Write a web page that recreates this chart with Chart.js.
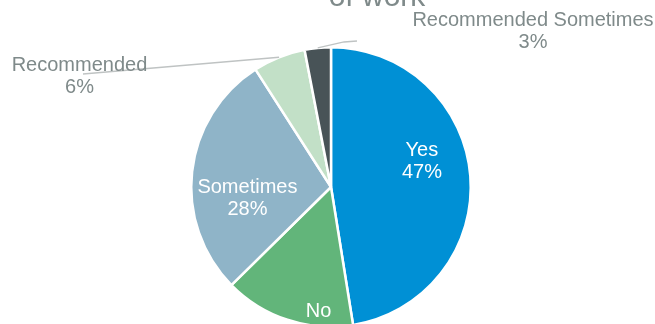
<!DOCTYPE html>
<html>
<head>
<meta charset="utf-8">
<script src="https://cdn.jsdelivr.net/npm/chart.js@4/dist/chart.umd.min.js"></script>
<style>
  html, body { margin: 0; padding: 0; background: #ffffff; }
  #frame { position: relative; width: 655px; height: 324px; overflow: hidden; }
  #chart { position: absolute; left: 0; top: 0; }
</style>
</head>
<body>
<div id="frame"><canvas id="chart" width="655" height="400"></canvas></div>
<script>
// Survey answers and their share of responses (%)
const categories = ['Yes', 'No', 'Sometimes', 'Recommended', 'Recommended Sometimes'];
const shares = [47, 15, 28, 6, 3];
const sliceColors = ['#0090D5', '#62B57A', '#8FB4C8', '#C2E0C7', '#485357'];
const titleText = 'of work';

// Label placement: polar position (degrees clockwise from 12 o'clock, fraction of radius)
const labelPolar = [
  [74.5, 0.675],
  [185.2, 0.975],
  [262.0, 0.604],
  [293.67, 1.965],
  [52.45, 1.823]
];
const labelInside = [true, true, true, false, false];
// Leader lines for the outside labels: points given as offsets from the label centre
const leaderPoints = {
  3: [[3.5, -2.75]],
  4: [[-189, 10.25], [-176, 9.25]]
};

const FONT = '20px "Liberation Sans", Arial, sans-serif';
const LINE_H = 22;

const labelPlugin = {
  id: 'sliceLabels',
  afterDatasetsDraw(chart) {
    const ctx = chart.ctx;
    const meta = chart.getDatasetMeta(0);
    const total = shares.reduce((a, b) => a + b, 0);
    ctx.save();
    ctx.font = FONT;
    ctx.textAlign = 'center';
    ctx.textBaseline = 'middle';
    meta.data.forEach((arc, i) => {
      const { x, y, outerRadius, startAngle, endAngle } = arc.getProps(['x', 'y', 'outerRadius', 'startAngle', 'endAngle'], true);
      const [deg, frac] = labelPolar[i];
      const a = deg * Math.PI / 180;
      const lx = x + Math.sin(a) * frac * outerRadius;
      const ly = y - Math.cos(a) * frac * outerRadius;
      const pct = Math.round(shares[i] / total * 100) + '%';

      if (leaderPoints[i]) {
        const mid = (startAngle + endAngle) / 2;
        ctx.beginPath();
        ctx.moveTo(x + Math.cos(mid) * outerRadius, y + Math.sin(mid) * outerRadius);
        leaderPoints[i].forEach(([ox, oy]) => ctx.lineTo(lx + ox, ly + oy));
        ctx.strokeStyle = '#BFC3C3';
        ctx.lineWidth = 1.3;
        ctx.stroke();
      }
      ctx.fillStyle = labelInside[i] ? '#FFFFFF' : '#7F8A8A';
      ctx.fillText(categories[i], lx, ly - LINE_H / 2);
      ctx.fillText(pct, lx, ly + LINE_H / 2);
    });
    ctx.restore();
  }
};

const titlePlugin = {
  id: 'cutTitle',
  afterDraw(chart) {
    const ctx = chart.ctx;
    ctx.save();
    ctx.font = '30px "Liberation Sans", Arial, sans-serif';
    ctx.fillStyle = '#7F8A8A';
    ctx.textAlign = 'center';
    ctx.textBaseline = 'alphabetic';
    ctx.fillText(titleText, 377, 6);
    ctx.restore();
  }
};

new Chart(document.getElementById('chart'), {
  type: 'pie',
  data: {
    labels: categories,
    datasets: [{
      data: shares,
      backgroundColor: sliceColors,
      borderColor: '#FFFFFF',
      borderWidth: 2.5
    }]
  },
  options: {
    responsive: false,
    animation: false,
    layout: { padding: { top: 46, bottom: 72, left: 190, right: 183 } },
    plugins: {
      legend: { display: false },
      tooltip: { enabled: false },
      title: { display: false }
    }
  },
  plugins: [labelPlugin, titlePlugin]
});
</script>
</body>
</html>
